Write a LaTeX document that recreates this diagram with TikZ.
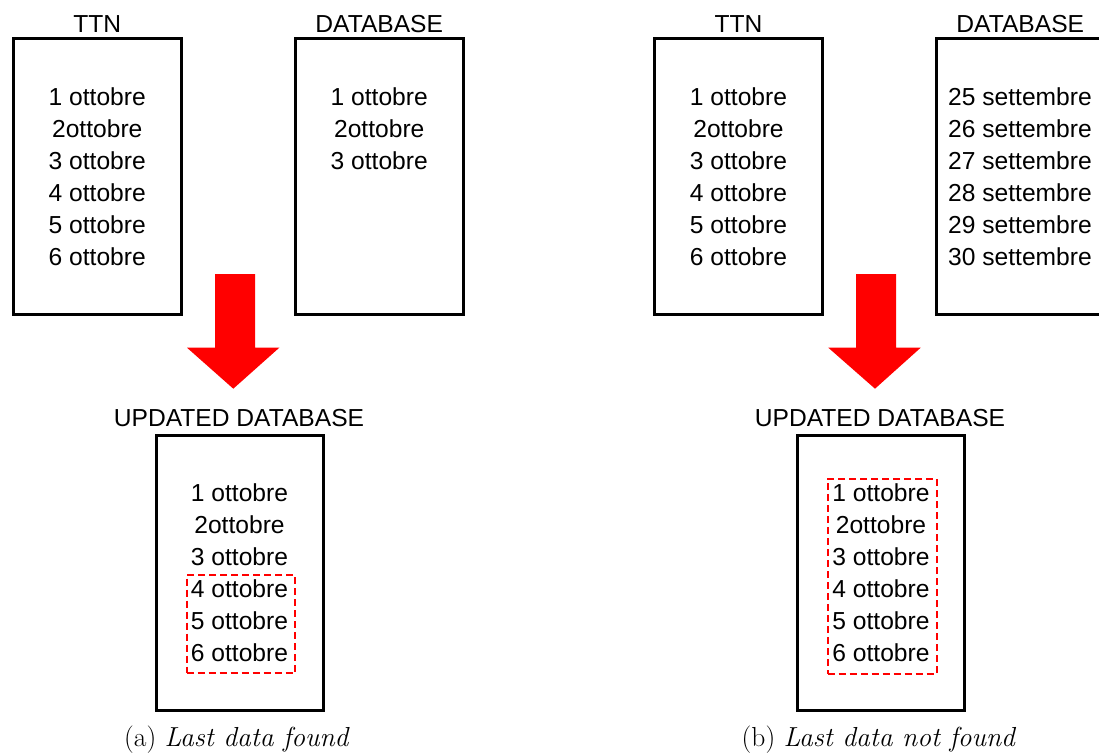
\documentclass[tikz,border=0pt]{standalone}
\usepackage{fontspec}
\newfontfamily\diagfont{Liberation Sans}
\begin{document}
\begin{tikzpicture}[x=1pt,y=-1pt,
  frame/.style={draw=black, line width=3pt, inner sep=0pt, outer sep=0pt},
  topframe/.style={frame, minimum width=167.5pt, minimum height=276pt},
  lowframe/.style={frame, minimum width=167pt, minimum height=275pt},
  title/.style={font=\diagfont\fontsize{24.6}{28}\selectfont, anchor=base, inner sep=0pt},
  entry/.style={font=\diagfont\fontsize{24.6}{28}\selectfont, anchor=base, inner sep=0pt},
  newdata/.style={draw=red, line width=1.9pt, dash pattern=on 7pt off 4pt, inner sep=0pt, outer sep=0pt},
  caption/.style={font=\fontsize{27.5}{31}\selectfont, anchor=base, inner sep=0pt},
  bigarrow/.style={fill=red}]
\clip (0,0) rectangle (1099,752);

% ---------- (a) last data found ----------
\node[topframe] (ttnA) at (97.25,176.5) {};
\node[topframe] (dbA) at (379.25,176.5) {};
\node[lowframe] (updA) at (239.75,572.5) {};
\node[title] (ttnAt) at (97.25,32.3) {TTN};
\node[title] (dbAt) at (379.25,32.3) {DATABASE};
\node[title] (updAt) at (239,426) {UPDATED DATABASE};

\foreach \t [count=\i] in {1 ottobre,2ottobre,3 ottobre,4 ottobre,5 ottobre,6 ottobre}
  \node[entry] (ttnA-\i) at (97.25,{105+32.1*(\i-1)}) {\t};
\foreach \t [count=\i] in {1 ottobre,2ottobre,3 ottobre}
  \node[entry] (dbA-\i) at (379.25,{105+32.1*(\i-1)}) {\t};
\foreach \t [count=\i] in {1 ottobre,2ottobre,3 ottobre,4 ottobre,5 ottobre,6 ottobre}
  \node[entry] (updA-\i) at (239.5,{501+32.1*(\i-1)}) {\t};

\node[newdata, minimum width=108.6pt, minimum height=98.3pt] (newA) at (241,624.15) {};

\fill[bigarrow] (215,274) -- (255,274) -- (255,347.7) -- (279.3,347.7)
  -- (233.3,388.7) -- (187,347.7) -- (215,347.7) -- cycle;

\node[caption] (capA) at (237,746) {(a) \textit{Last data found}};

% ---------- (b) last data not found ----------
\node[topframe] (ttnB) at (738.5,176.5) {};
\node[topframe] (dbB) at (1020.25,176.5) {};
\node[lowframe] (updB) at (880.75,572.75) {};
\node[title] (ttnBt) at (738.5,32.3) {TTN};
\node[title] (dbBt) at (1020.25,32.3) {DATABASE};
\node[title] (updBt) at (880,426) {UPDATED DATABASE};

\foreach \t [count=\i] in {1 ottobre,2ottobre,3 ottobre,4 ottobre,5 ottobre,6 ottobre}
  \node[entry] (ttnB-\i) at (738.5,{105+32.1*(\i-1)}) {\t};
\foreach \t [count=\i] in {25 settembre,26 settembre,27 settembre,28 settembre,29 settembre,30 settembre}
  \node[entry] (dbB-\i) at (1020,{105+32.1*(\i-1)}) {\t};
\foreach \t [count=\i] in {1 ottobre,2ottobre,3 ottobre,4 ottobre,5 ottobre,6 ottobre}
  \node[entry] (updB-\i) at (881,{501+32.1*(\i-1)}) {\t};

\node[newdata, minimum width=109pt, minimum height=195.3pt] (newB) at (882.2,576.35) {};

\fill[bigarrow] (856,274) -- (896,274) -- (896,347.7) -- (920.7,347.7)
  -- (875,388.7) -- (828.3,347.7) -- (856,347.7) -- cycle;

\node[caption] (capB) at (879,746) {(b) \textit{Last data not found}};
\end{tikzpicture}
\end{document}
